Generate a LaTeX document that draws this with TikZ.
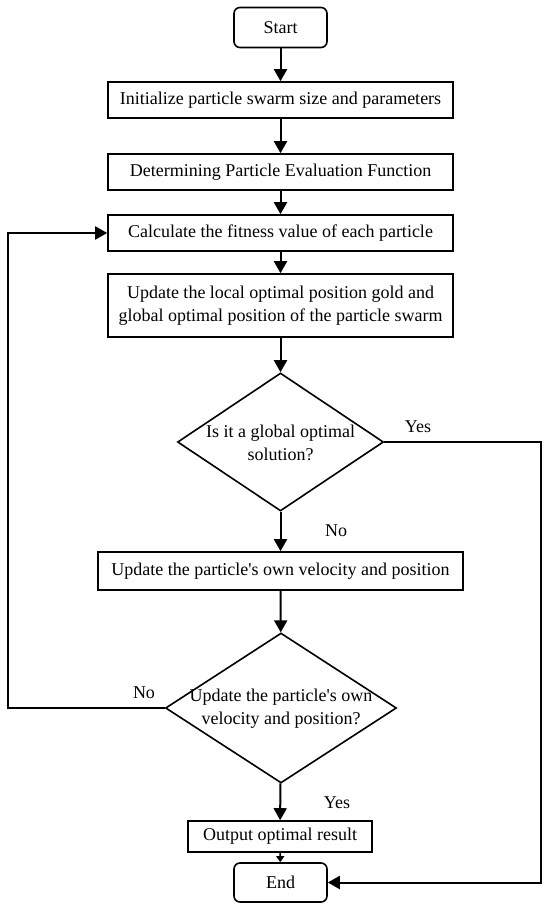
\documentclass[tikz,border=0pt]{standalone}
\usepackage{fontspec}
\setmainfont{Liberation Serif}
\usetikzlibrary{shapes.geometric,arrows.meta}
\begin{document}
\begin{tikzpicture}[x=1pt,y=-1pt,
  every node/.style={font=\fontsize{18}{23}\selectfont},
  boxst/.style={draw, line width=1.6pt, inner sep=0pt, align=center},
  termst/.style={boxst, rounded corners=6pt},
  diast/.style={draw, diamond, line width=1.6pt, inner sep=0pt},
  lbl/.style={inner sep=0pt},
  conn/.style={line width=2pt, -{Triangle[width=13pt,length=12pt]}},
  smallconn/.style={line width=1.6pt, -{Triangle[width=8pt,length=6pt]}}
]
\useasboundingbox (0,0) rectangle (550,912);
\node[termst, minimum width=93pt, minimum height=40pt] (start) at (280.5,27.5) {Start};
\node[boxst, minimum width=345pt, minimum height=36pt] (b1) at (280.5,100) {Initialize particle swarm size and parameters};
\node[boxst, minimum width=345pt, minimum height=36pt] (b2) at (280.5,172) {Determining Particle Evaluation Function};
\node[boxst, minimum width=345pt, minimum height=36pt] (b3) at (280.5,233) {Calculate the fitness value of each particle};
\node[boxst, minimum width=345pt, minimum height=63pt] (b4) at (280.5,305.5) {Update the local optimal position gold and\\global optimal position of the particle swarm};
\node[diast, minimum width=206pt, minimum height=138pt] (d1) at (280.5,442) {};
\node[lbl, align=center] (d1t) at (280.5,443) {Is it a global optimal\\solution?};
\node[boxst, minimum width=365pt, minimum height=38pt] (b5) at (280.5,571) {Update the particle\textquotesingle s own velocity and position};
\node[diast, minimum width=231pt, minimum height=150pt] (d2) at (281,708) {};
\node[lbl, align=center] (d2t) at (281,709) {Update the particle\textquotesingle s own\\velocity and position?};
\node[boxst, minimum width=184pt, minimum height=31pt] (out) at (280,836.5) {Output optimal result};
\node[termst, minimum width=93pt, minimum height=39pt] (end) at (280.5,882.5) {End};
\node[lbl] (yes1) at (418,427) {Yes};
\node[lbl] (no1) at (336,531) {No};
\node[lbl] (no2) at (144,693) {No};
\node[lbl] (yes2) at (337,803) {Yes};
\coordinate (lx) at (8,708);
\coordinate (rx) at (541,442);
\draw[conn] (start) -- (b1);
\draw[conn] (b1) -- (b2);
\draw[conn] (b2) -- (b3);
\draw[conn] (b3) -- (b4);
\draw[conn] (b4) -- (d1);
\draw[conn] (d1) -- (b5);
\draw[conn] (b5) -- (d2);
\draw[conn] (d2) -- (out);
\draw[smallconn] (out) -- (end);
\draw[conn] (d2.west) -- (lx) |- (b3.west);
\draw[conn] (d1.east) -- (rx) |- (end.east);
\end{tikzpicture}
\end{document}
